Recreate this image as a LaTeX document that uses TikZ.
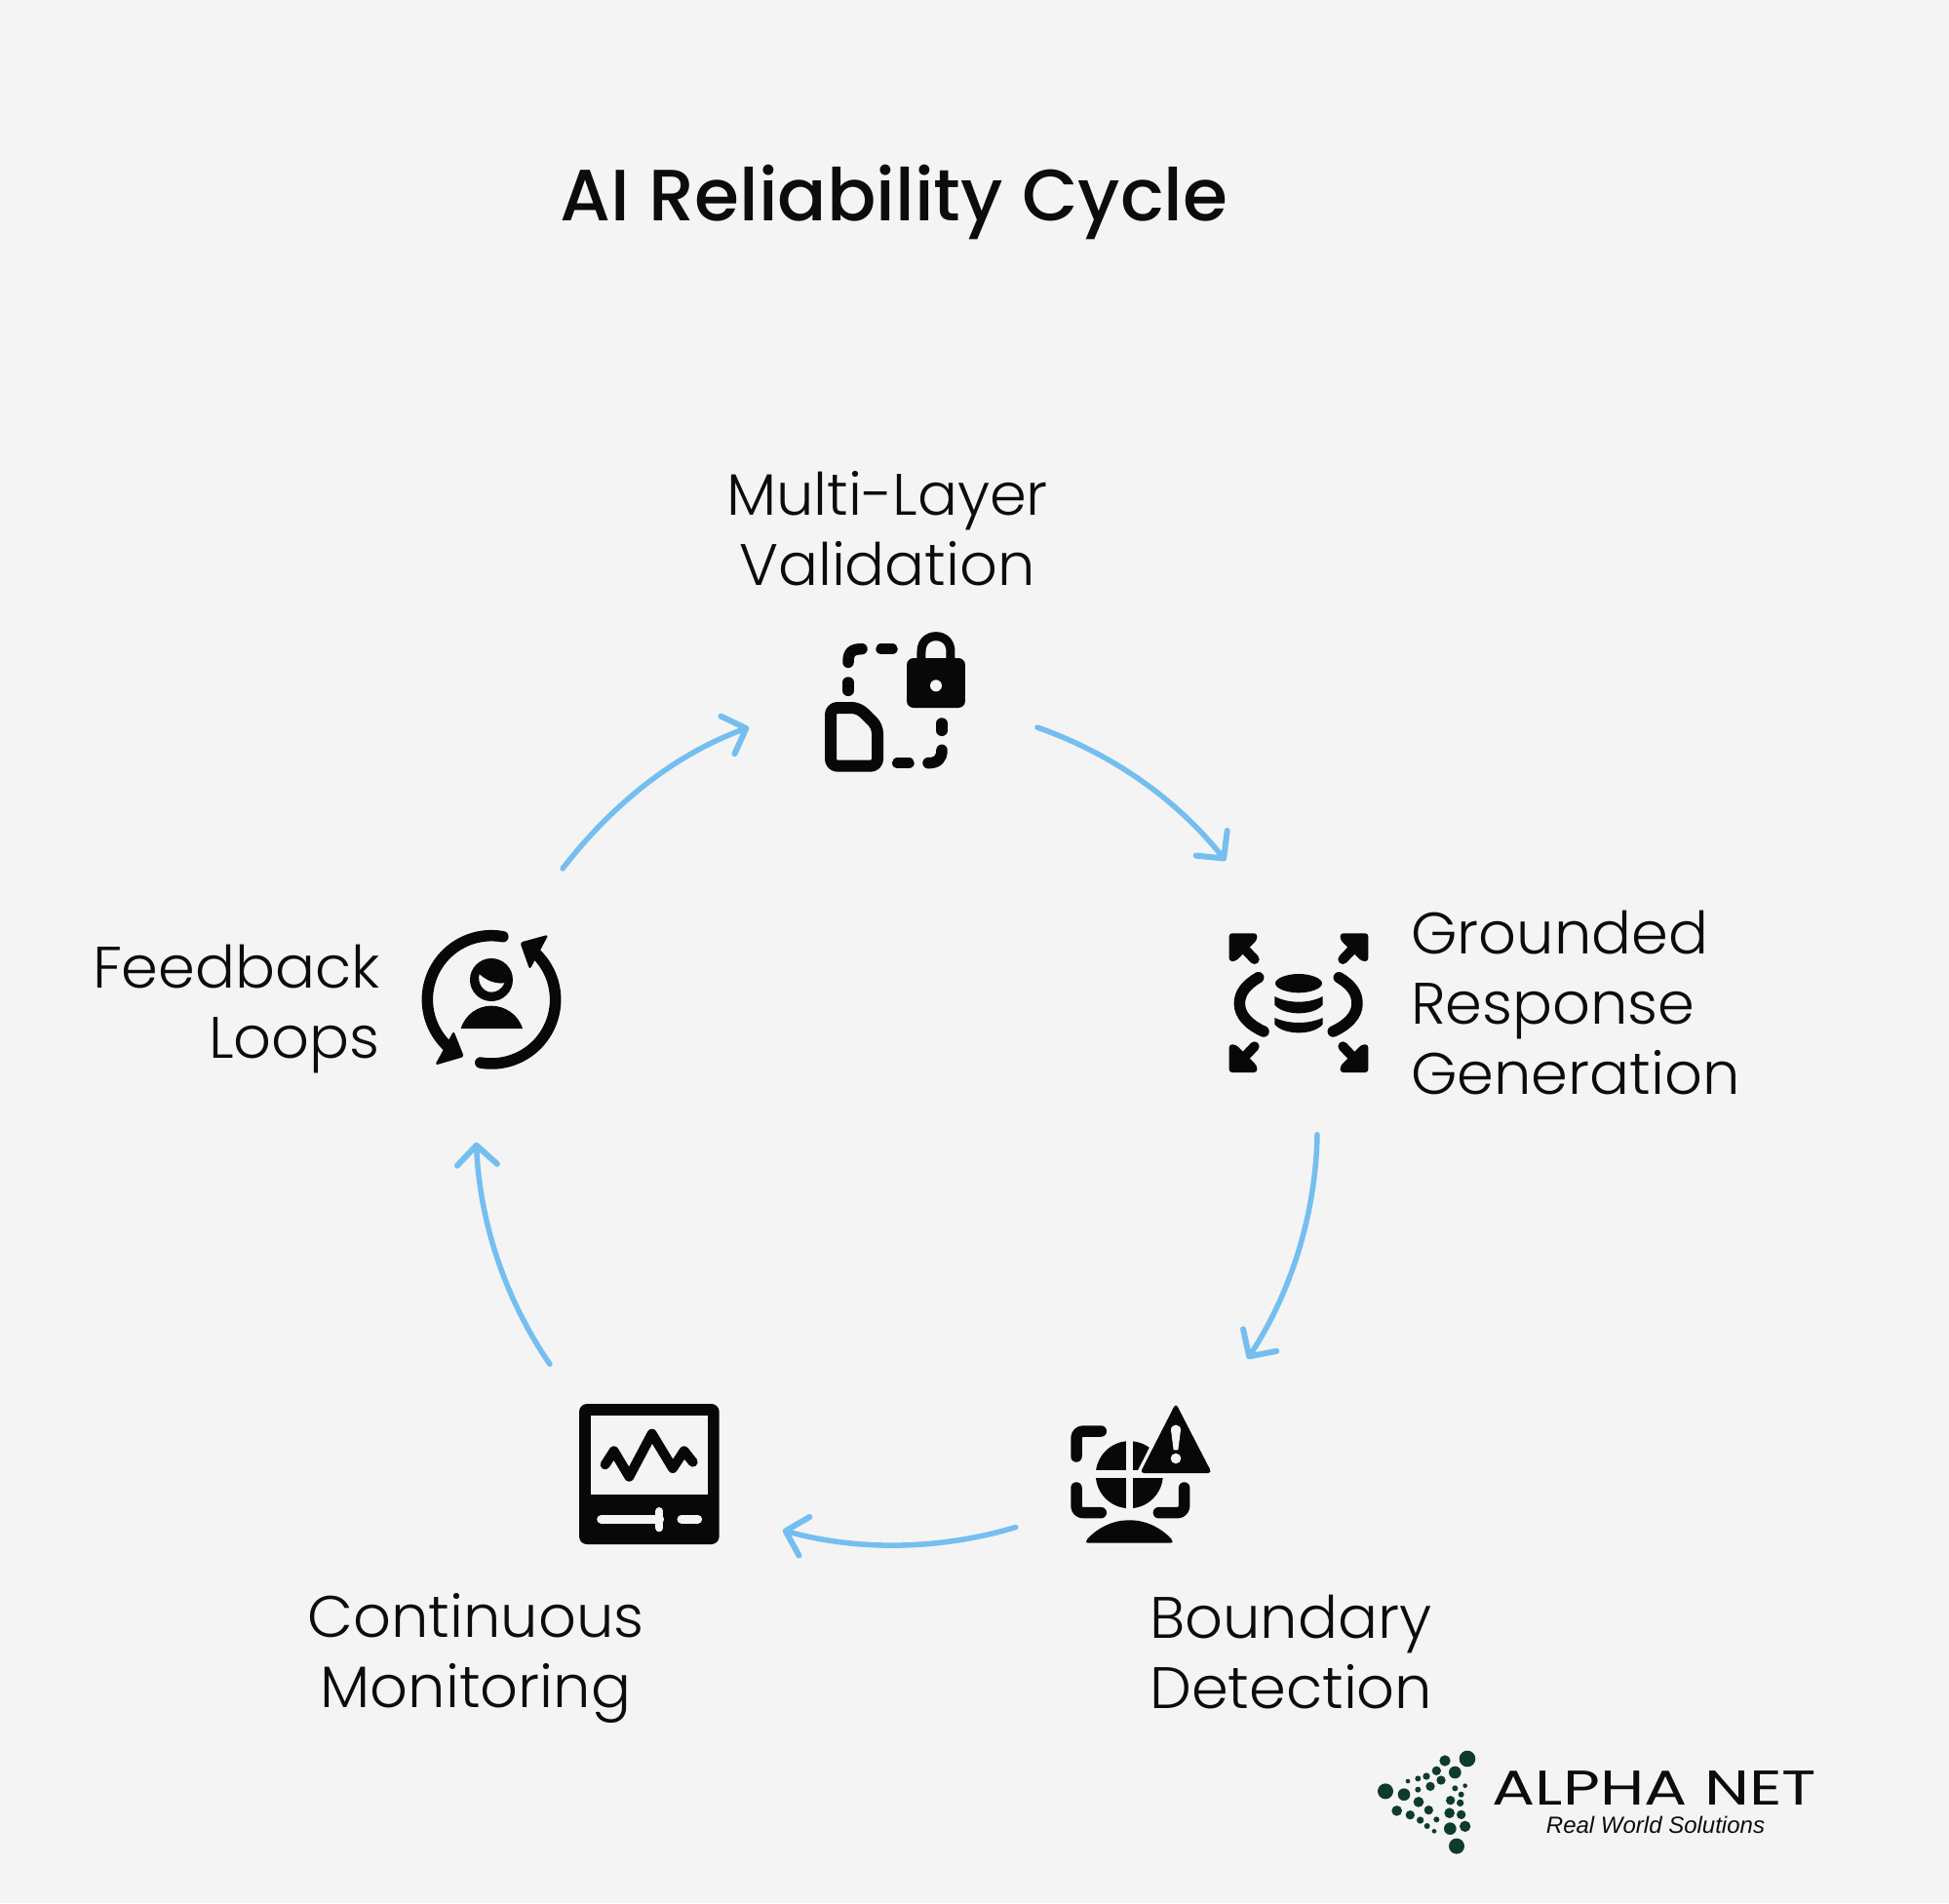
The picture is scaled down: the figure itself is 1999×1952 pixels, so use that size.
\documentclass[tikz,border=0pt]{standalone}
\usepackage{fontspec}
\setmainfont{Poppins}[UprightFont=* Light,FakeStretch=1.012]
\newfontfamily\titlefont{Poppins}[UprightFont=* Medium]
\newfontfamily\logofont{Poppins}[UprightFont=* Regular,FakeStretch=1.31]
\newfontfamily\tagfont{Liberation Sans}
\usetikzlibrary{arrows.meta,calc}
\definecolor{bgc}{HTML}{F4F4F4}
\definecolor{ink}{HTML}{080808}
\definecolor{txt}{HTML}{0C0C0C}
\definecolor{arrowc}{HTML}{74BEF0}
\definecolor{dotc}{HTML}{0F3B2E}
\tikzset{
  x=1pt,y=-1pt,
  cyc/.style={draw=arrowc,line width=5.5pt,line cap=round,-{Straight Barb[length=20pt,width=41pt,line width=6pt,round]}},
  iconport/.style={circle,minimum size=300pt,inner sep=0pt,draw=none},
  label/.style={font=\fontsize{60}{72}\selectfont,text=txt,inner sep=0pt,align=#1},
  zoomed/.style={x=0.3333pt,y=-0.3333pt},
  stroke/.style={draw=ink,line width=#1,line cap=round,line join=round},
  solid ink/.style={fill=ink,draw=none}
}
\begin{document}
\begin{tikzpicture}
\useasboundingbox (0,0) rectangle (1999,1952);
\fill[bgc] (0,0) rectangle (1999,1952);

% ports of the five icons
\node[iconport] (i1) at (916,720) {};
\node[iconport] (i2) at (1327.5,1015.4) {};
\node[iconport] (i3) at (1179,1505.4) {};
\node[iconport] (i4) at (664.5,1510.9) {};
\node[iconport] (i5) at (504.2,1022.4) {};

% connectors
\draw[cyc] (i1.-10.1) .. controls +(76.6,27) and +(-50.7,-63.5) .. (i2.118.6);
\draw[cyc] (i2.-81.7) .. controls +(-1.5,81) and +(44.8,-68) .. (i3.48.6);
\draw[cyc] (i3.204.6) .. controls +(-77.6,23.3) and +(78,21.5) .. (i4.-23.1);
\draw[cyc] (i4.132.7) .. controls +(-46,-66.7) and +(3.4,81) .. (i5.-96.6);
\draw[cyc] (i5.61.7) .. controls +(50,-65) and +(-77,28) .. (i1.190.7);

% title and labels
\node[anchor=base,inner sep=0pt,text=txt,font=\titlefont\fontsize{74.5}{90}\selectfont] (title) at (917,226) {AI Reliability Cycle};
\node[label=center] (t1) at (910,542) {Multi-Layer\\Validation};
\node[label=right,anchor=east] (t5) at (390,1035) {Feedback\\Loops};
\node[label=left,anchor=west] (t2) at (1447,1029) {Grounded\\Response\\Generation};
\node[label=center] (t4) at (488,1701) {Continuous\\Monitoring};
\node[label=left,anchor=west] (t3) at (1179,1695) {Boundary\\Detection};

% icon 1: document and lock
\begin{scope}[shift={(820,630)},zoomed]
  \draw[stroke=11.5pt] (150,148) .. controls (150,118) and (160,107) .. (192,107);
  \draw[stroke=11.5pt] (252,107) -- (285,107);
  \draw[stroke=11.5pt] (150,210) -- (150,235);
  \draw[stroke=11.5pt] (438,336) -- (438,358);
  \draw[stroke=11.5pt] (438,418) .. controls (438,445) and (425,458) .. (396,458);
  \draw[stroke=11.5pt] (302,458) -- (336,458);
  \draw[stroke=12pt,rounded corners=7pt] (96,288) -- (182,288) -- (240,345) -- (240,467) -- (96,467) -- cycle;
  \fill[ink,rounded corners=7pt] (330,135) rectangle (510,288);
  \fill[bgc] (420,220) circle[radius=6pt];
  \draw[stroke=9pt,line cap=butt] (375,142) -- (375,115) .. controls (375,85) and (395,68) .. (420,68) .. controls (445,68) and (465,85) .. (465,115) -- (465,142);
\end{scope}

% icon 2: database with arrows
\begin{scope}[shift={(1240,940)},zoomed]
  \foreach \sx/\sy in {1/1,-1/1,1/-1,-1/-1}{
    \begin{scope}[shift={(276,266)},xscale=\sx,yscale=\sy]
      \fill[ink,rounded corners=3pt] (-214,-214) -- (-128,-214) -- (-128,-194) -- (-194,-128) -- (-214,-128) -- cycle;
      \draw[stroke=10pt] (-176,-176) -- (-136,-134);
    \end{scope}
  }
  \draw[stroke=11.5pt] (152,188) .. controls (115,210) and (94,235) .. (94,268) .. controls (94,305) and (125,335) .. (168,354);
  \draw[stroke=11.5pt] (400,188) .. controls (437,210) and (456,235) .. (456,268) .. controls (456,305) and (425,335) .. (382,354);
  \fill[ink] (204,206) .. controls (204,190) and (240,177) .. (276,177) .. controls (312,177) and (348,190) .. (348,206) .. controls (348,222) and (312,235) .. (276,235) .. controls (240,235) and (204,222) .. (204,206) -- cycle;
  \fill[ink] (202,246) .. controls (225,258) and (250,263) .. (276,263) .. controls (302,263) and (327,258) .. (350,246) -- (350,272) .. controls (335,290) and (305,298) .. (276,298) .. controls (247,298) and (217,290) .. (202,272) -- cycle;
  \fill[ink] (202,312) .. controls (225,322) and (250,327) .. (276,327) .. controls (302,327) and (327,322) .. (350,312) -- (350,332) .. controls (335,350) and (305,358) .. (276,358) .. controls (247,358) and (217,350) .. (202,332) -- cycle;
\end{scope}

% icon 3: boundary, globe and warning
\begin{scope}[shift={(1080,1430)},zoomed]
  \draw[stroke=11.5pt,rounded corners=7pt] (72,192) -- (72,114) -- (148,114);
  \draw[stroke=11.5pt,rounded corners=7pt] (72,288) -- (72,365) -- (148,365);
  \draw[stroke=11.5pt,rounded corners=7pt] (404,288) -- (404,365) -- (325,365);
  \fill[ink] (235,248) circle[radius=34.5pt];
  \draw[bgc,line width=7pt] (236,130) -- (236,366);
  \draw[bgc,line width=7.5pt] (117,246) -- (353,246);
  \draw[bgc,line width=9pt,line join=round,fill=bgc] (378,35) -- (272,243) -- (485,243) -- cycle;
  \fill[ink,rounded corners=4pt] (378,28) -- (268,243) -- (489,243) -- cycle;
  \fill[bgc] (363,110) .. controls (363,90) and (393,90) .. (393,110) -- (385,172) -- (371,172) -- cycle;
  \fill[bgc] (378,198) circle[radius=5.3pt];
  \fill[ink,rounded corners=2pt] (102,450) .. controls (140,408) and (190,388) .. (235,388) .. controls (280,388) and (330,408) .. (368,450) -- (368,458) -- (102,458) -- cycle;
\end{scope}

% icon 4: monitor
\begin{scope}[shift={(580,1430)},zoomed]
  \fill[ink,rounded corners=8pt] (42,30) rectangle (473,462);
  \fill[bgc] (78,66) rectangle (438,308);
  \draw[stroke=10pt] (122,217) -- (149,175) -- (196,254) -- (266,122) -- (330,228) -- (365,175) -- (392,209);
  \draw[bgc,line width=9pt,line cap=round] (110,385) -- (290,385);
  \draw[bgc,line width=8pt,line cap=round] (289,360) -- (289,412);
  \draw[bgc,line width=9pt,line cap=round] (357,385) -- (407,385);
\end{scope}

% icon 5: person in a cycle
\begin{scope}[shift={(420,940)},zoomed]
  \draw[stroke=11.5pt] plot[domain=-79.6:-228,samples=50] ({252+197*cos(\x)},{256+197*sin(\x)});
  \draw[stroke=11.5pt] plot[domain=99.8:-46.7,samples=50] ({252+197*cos(\x)},{256+197*sin(\x)});
  \fill[ink,rounded corners=3pt] (78,458) -- (168,432) -- (136,352) -- cycle;
  \fill[ink,rounded corners=3pt] (340,80) -- (428,56) -- (370,164) -- cycle;
  \fill[ink] (252,195) circle[radius=22pt];
  \fill[bgc] (215,178) .. controls (240,200) and (265,208) .. (292,205) .. controls (285,222) and (268,233) .. (252,233) .. controls (228,233) and (208,205) .. (215,178) -- cycle;
  \fill[ink] (158,345) .. controls (172,300) and (212,275) .. (252,275) .. controls (292,275) and (334,300) .. (348,345) -- cycle;
\end{scope}

% logo
\begin{scope}[shift={(1400,1780)},zoomed]
  \foreach \dx/\dy/\dr in {315/72/25,246/78/17,277/114/19,220/109/14,189/126/11,163/133/9,132/141/7,234/138/14,201/157/14,163/167/9,277/163/9,308/155/7,63/172/24,120/182/19,296/182/9,165/205/16,263/200/14,293/208/11,98/232/16,139/245/14,196/230/14,260/239/16,296/244/14,170/261/11,220/259/9,191/279/9,213/295/7,262/287/19,308/280/17,282/341/24}{
    \fill[dotc] (\dx,\dy) circle[radius=\dr*0.3333pt];
  }
\end{scope}
\node[anchor=base,inner sep=0pt,text=txt,font=\logofont\fontsize{50}{50}\selectfont] (logoname) at (1697,1851) {ALPHA NET};
\node[anchor=base,inner sep=0pt,text=txt,font=\tagfont\fontsize{24}{24}\selectfont\itshape] (logotag) at (1698,1880) {Real World Solutions};
\end{tikzpicture}
\end{document}
